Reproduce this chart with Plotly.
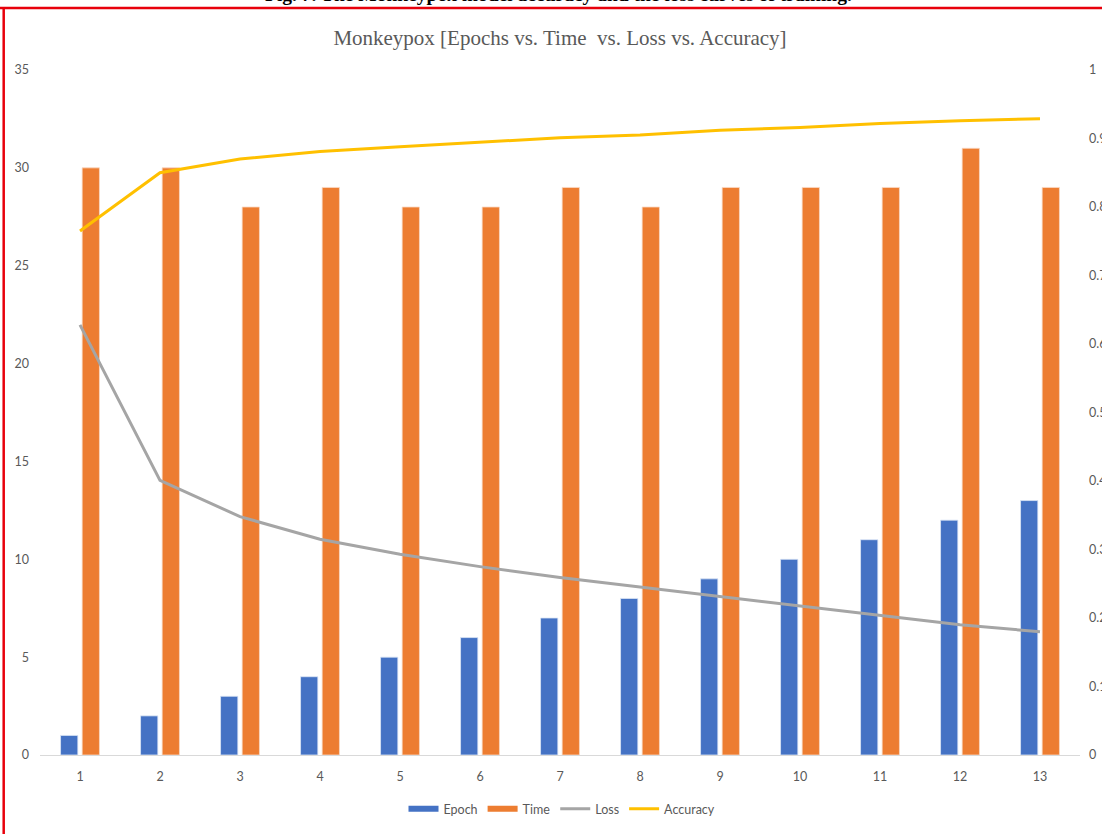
import plotly.graph_objects as go

# Training log for the Monkeypox model
epochs = [1, 2, 3, 4, 5, 6, 7, 8, 9, 10, 11, 12, 13]
categories = [str(e) for e in epochs]
epoch_values = [1, 2, 3, 4, 5, 6, 7, 8, 9, 10, 11, 12, 13]
time_values = [30, 30, 28, 29, 28, 28, 29, 28, 29, 29, 29, 31, 29]
loss_values = [0.628, 0.401, 0.348, 0.315, 0.293, 0.275, 0.259, 0.245,
               0.232, 0.218, 0.203, 0.190, 0.180]
accuracy_values = [0.765, 0.850, 0.870, 0.881, 0.888, 0.895, 0.901, 0.905,
                   0.912, 0.916, 0.922, 0.926, 0.929]

left_ticks = [0, 5, 10, 15, 20, 25, 30, 35]
right_ticks = [0, 0.1, 0.2, 0.3, 0.4, 0.5, 0.6, 0.7, 0.8, 0.9, 1]
right_tick_text = ["0", "0.1", "0.2", "0.3", "0.4", "0.5", "0.6", "0.7", "0.8", "0.9", "1"]

BLUE, ORANGE, GREY, GOLD = "#4472C4", "#ED7D31", "#A5A5A5", "#FFC000"

W, H = 1102, 834
L, R, T, B = 40, 22, 70, 79
PW, PH = W - L - R, H - T - B


def px_x(x):
    return (x - L) / PW


def px_y(y):
    return (H - B - y) / PH


TICK_FONT = dict(family="Lato, Open Sans, sans-serif", size=12.5, color="#595959")

fig = go.Figure()
fig.add_trace(go.Bar(x=categories, y=epoch_values, name="Epoch", showlegend=False,
                     marker=dict(color=BLUE, line=dict(color="#DCE6F5", width=0.8))))
fig.add_trace(go.Bar(x=categories, y=time_values, name="Time", showlegend=False,
                     marker=dict(color=ORANGE, line=dict(color="#FAD9C4", width=0.8))))
fig.add_trace(go.Scatter(x=categories, y=loss_values, name="Loss", mode="lines",
                         line=dict(color=GREY, width=3), yaxis="y2", showlegend=False))
fig.add_trace(go.Scatter(x=categories, y=accuracy_values, name="Accuracy", mode="lines",
                         line=dict(color=GOLD, width=3), yaxis="y2", showlegend=False))

# Legend keys: flat bands for the bar series, thin strokes for the line series
for name, color, width in [("Epoch", BLUE, 6), ("Time", ORANGE, 6),
                           ("Loss", GREY, 3), ("Accuracy", GOLD, 3)]:
    fig.add_trace(go.Scatter(x=[None], y=[None], name=name, mode="lines",
                             line=dict(color=color, width=width)))

fig.update_layout(
    width=W, height=H,
    margin=dict(l=L, r=R, t=T, b=B, autoexpand=False),
    paper_bgcolor="white", plot_bgcolor="white",
    barmode="group", bargap=0.46, bargroupgap=0.2,
    title=dict(text="Monkeypox [Epochs vs. Time  vs. Loss vs. Accuracy]",
               x=px_x(560), xref="paper", xanchor="center",
               y=1 - 38 / H, yref="container", yanchor="middle",
               font=dict(family="Liberation Serif, Times New Roman, serif", size=21, color="#595959")),
    xaxis=dict(type="category", showgrid=False, showline=True, linecolor="#D9D9D9",
               linewidth=1, ticks="", tickfont=TICK_FONT, ticklabelstandoff=10,
               automargin=False, zeroline=False),
    yaxis=dict(range=[0, 35], tickvals=left_ticks, showgrid=False, showline=False,
               zeroline=False, ticks="", tickfont=TICK_FONT, ticklabelstandoff=10,
               automargin=False),
    yaxis2=dict(range=[0, 1], tickvals=right_ticks, ticktext=right_tick_text,
                overlaying="y", side="right", showgrid=False, showline=False,
                zeroline=False, ticks="", tickfont=TICK_FONT, ticklabelstandoff=8,
                automargin=False),
    legend=dict(orientation="h", x=px_x(562), xanchor="center",
                y=1 - 809 / H, yref="container",
                yanchor="middle", font=TICK_FONT, itemwidth=30,
                traceorder="normal", bgcolor="rgba(0,0,0,0)"),
    shapes=[
        dict(type="line", xref="paper", yref="paper", x0=px_x(0), x1=px_x(W),
             y0=px_y(8), y1=px_y(8), line=dict(color="#E8000B", width=2.5)),
        dict(type="line", xref="paper", yref="paper", x0=px_x(3.7), x1=px_x(3.7),
             y0=px_y(8), y1=px_y(H), line=dict(color="#E8000B", width=2.5)),
    ],
    annotations=[
        dict(text="<b>Fig. 7. The Monkeypox model accuracy and the loss curves of training.</b>",
             xref="paper", yref="paper", x=px_x(558), y=px_y(7), xanchor="center",
             yanchor="bottom", showarrow=False,
             font=dict(family="Liberation Serif, Times New Roman, serif", size=19.5, color="black")),
    ],
)

fig.write_html("out.html")
